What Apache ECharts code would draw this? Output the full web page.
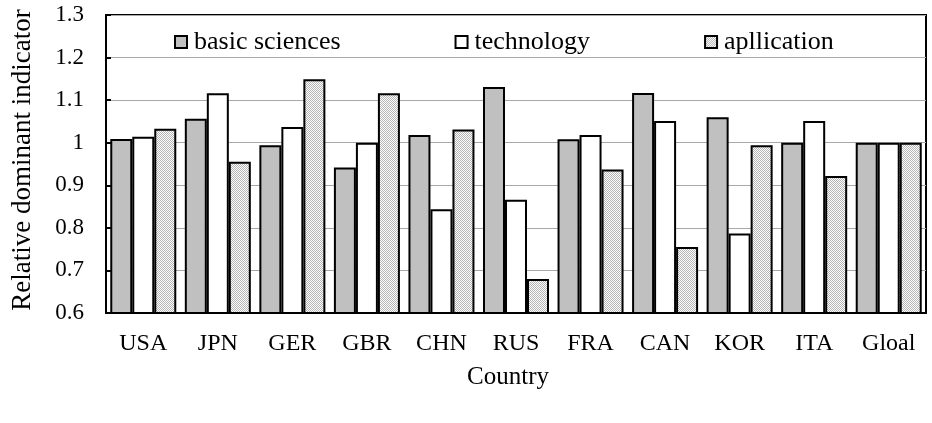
<!DOCTYPE html>
<html>
<head>
<meta charset="utf-8">
<script src="https://cdn.jsdelivr.net/npm/echarts@6/dist/echarts.min.js"></script>
<style>
  html, body { margin: 0; padding: 0; background: #fff; }
  #chart { width: 932px; height: 423px; }
</style>
</head>
<body>
<div id="chart"></div>
<script>
const countries = ['USA', 'JPN', 'GER', 'GBR', 'CHN', 'RUS', 'FRA', 'CAN', 'KOR', 'ITA', 'Gloal']
const basicSciences = [1.009, 1.056, 0.994, 0.942, 1.018, 1.131, 1.008, 1.117, 1.060, 1.000, 1.000]
const technology = [1.014, 1.116, 1.037, 1.000, 0.844, 0.866, 1.018, 1.051, 0.787, 1.051, 1.000]
const application = [1.033, 0.955, 1.149, 1.116, 1.031, 0.680, 0.937, 0.755, 0.994, 0.922, 1.000]

const serif = '"Liberation Serif", "DejaVu Serif", serif'

// fine stipple fill for the application bars
function dotPattern() {
  const c = document.createElement('canvas')
  c.width = 2
  c.height = 2
  const ctx = c.getContext('2d')
  ctx.fillStyle = '#ffffff'
  ctx.fillRect(0, 0, 2, 2)
  ctx.fillStyle = '#b4b4b4'
  ctx.fillRect(0, 0, 1, 1)
  ctx.fillRect(1, 1, 1, 1)
  return c
}

const chart = echarts.init(document.getElementById('chart'))
const barBorder = { borderColor: '#000', borderWidth: 2 }

chart.setOption({
  animation: false,
  textStyle: { fontFamily: serif, color: '#000' },
  grid: {
    left: 106,
    right: 6,
    top: 15,
    bottom: 110,
    show: true,
    borderColor: '#000',
    borderWidth: 2,
    outerBoundsMode: 'none',
    containLabel: false
  },
  legend: {
    left: 174,
    top: 29,
    padding: 0,
    itemWidth: 12,
    itemHeight: 12,
    itemGap: 114,
    itemStyle: { borderWidth: 2 },
    icon: 'rect',
    textStyle: { fontFamily: serif, fontSize: 26, color: '#000', padding: [0, 0, 0, 2] }
  },
  xAxis: {
    type: 'category',
    data: countries,
    name: 'Country',
    nameLocation: 'middle',
    nameGap: 52,
    nameTextStyle: { fontFamily: serif, fontSize: 25, color: '#000', padding: [0, 16, 0, 0] },
    axisLine: { lineStyle: { color: '#000', width: 2 } },
    axisTick: { inside: true, length: 5, lineStyle: { color: '#000', width: 2 } },
    axisLabel: { margin: 19, fontFamily: serif, fontSize: 24, color: '#000' }
  },
  yAxis: {
    type: 'value',
    min: 0.6,
    max: 1.3,
    interval: 0.1,
    name: 'Relative dominant indicator',
    nameLocation: 'middle',
    nameGap: 70,
    nameTextStyle: { fontFamily: serif, fontSize: 27, color: '#000', padding: [0, 0, 0, 8] },
    axisLine: { show: true, lineStyle: { color: '#000', width: 2 } },
    axisTick: { show: true, inside: true, length: 5, lineStyle: { color: '#000', width: 2 } },
    axisLabel: {
      margin: 22,
      fontFamily: serif,
      fontSize: 23,
      color: '#000',
      formatter: v => String(Math.round(v * 10) / 10)
    },
    splitLine: { lineStyle: { color: '#a8a8a8', width: 1 } }
  },
  series: [
    {
      name: 'basic sciences',
      type: 'bar',
      data: basicSciences,
      barWidth: 22,
      barGap: '0%',
      itemStyle: Object.assign({ color: '#c0c0c0' }, barBorder)
    },
    {
      name: 'technology',
      type: 'bar',
      data: technology,
      barWidth: 22,
      barGap: '0%',
      itemStyle: Object.assign({ color: '#ffffff' }, barBorder)
    },
    {
      name: 'apllication',
      type: 'bar',
      data: application,
      barWidth: 22,
      barGap: '0%',
      itemStyle: Object.assign({ color: { image: dotPattern(), repeat: 'repeat' } }, barBorder)
    }
  ]
})
</script>
</body>
</html>
